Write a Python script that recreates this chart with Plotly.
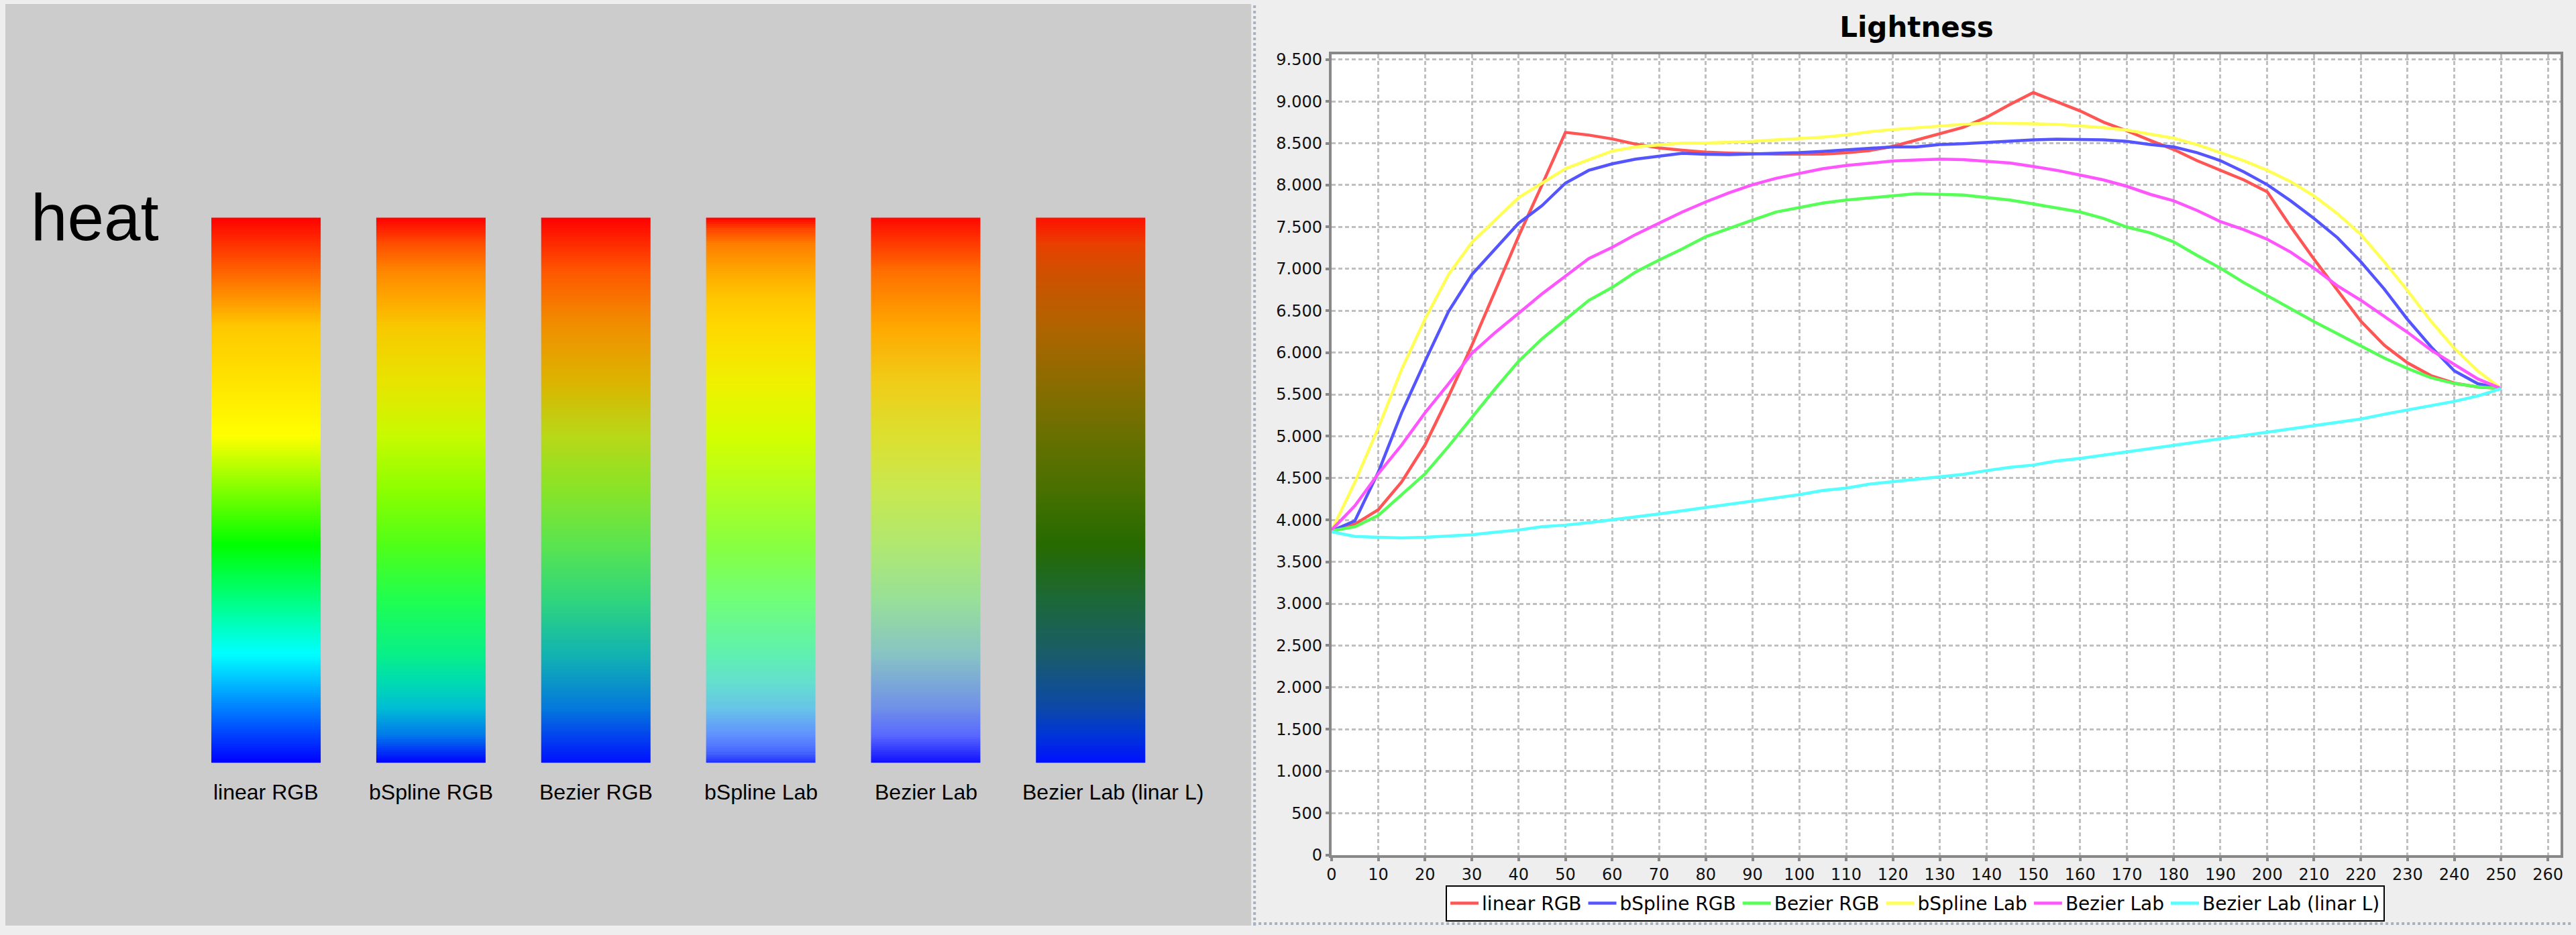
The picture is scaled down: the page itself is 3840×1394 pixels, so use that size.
import numpy as np
import plotly.graph_objects as go

# ---- left panel: "heat" colour ramps (top -> bottom colour stops)
bar_names = ["linear RGB", "bSpline RGB", "Bezier RGB", "bSpline Lab", "Bezier Lab", "Bezier Lab (linar L)"]

linear_rgb_stops = [(0.0, "#ff0000"), (0.2, "#ffc800"), (0.4, "#ffff00"),
                    (0.6, "#00ff00"), (0.8, "#00ffff"), (1.0, "#0000ff")]
bspline_rgb_stops = [(0.0, "#ff0000"), (0.05, "#ff5000"), (0.1, "#ff8800"), (0.15, "#ffa800"),
                     (0.2, "#f8c800"), (0.3, "#e8e400"), (0.4, "#c8fa00"), (0.5, "#8cff00"),
                     (0.6, "#50ff18"), (0.7, "#20ff50"), (0.8, "#08f088"), (0.85, "#00dcb0"),
                     (0.9, "#00bcd4"), (0.95, "#0078ec"), (1.0, "#0000ff")]
bezier_rgb_stops = [(0.0, "#ff0000"), (0.1, "#ff5800"), (0.2, "#f09000"), (0.3, "#dcb400"),
                    (0.4, "#b8d818"), (0.5, "#88e428"), (0.6, "#5ae450"), (0.7, "#30d67c"),
                    (0.8, "#12b4b0"), (0.9, "#0478dc"), (1.0, "#0010ff")]
bspline_lab_stops = [(0.0, "#ff0000"), (0.02, "#ff4000"), (0.05, "#ff8000"), (0.1, "#ffa800"),
                     (0.15, "#ffc800"), (0.2, "#ffd800"), (0.3, "#f0f000"), (0.4, "#d4ff00"),
                     (0.5, "#b0ff20"), (0.6, "#88ff40"), (0.7, "#70ff78"), (0.8, "#60f0b0"),
                     (0.85, "#64e0cc"), (0.9, "#68c4e8"), (0.95, "#6090ff"), (0.98, "#4868ff"),
                     (1.0, "#2030ff")]
bezier_lab_stops = [(0.0, "#ff0800"), (0.1, "#ff7000"), (0.2, "#ffa800"), (0.3, "#f0cc18"),
                    (0.4, "#dce030"), (0.5, "#c8e850"), (0.6, "#b0e870"), (0.7, "#98e098"),
                    (0.8, "#88c4c4"), (0.9, "#7090e8"), (0.95, "#5868ff"), (1.0, "#1010ff")]
bezier_lab_l_stops = [(0.0, "#ff1000"), (0.05, "#e84000"), (0.1, "#d05000"), (0.2, "#b06400"),
                      (0.3, "#8c6c00"), (0.4, "#687000"), (0.5, "#487000"), (0.6, "#266a00"),
                      (0.7, "#1c6838"), (0.8, "#1a5c68"), (0.9, "#0c48a8"), (0.95, "#0034d8"),
                      (1.0, "#0010ff")]
bar_stops = [linear_rgb_stops, bspline_rgb_stops, bezier_rgb_stops,
             bspline_lab_stops, bezier_lab_stops, bezier_lab_l_stops]

# ---- right panel: lightness curves
steps = [0, 5, 10, 15, 20, 25, 30, 35, 40, 45, 50, 55, 60, 65, 70, 75, 80, 85, 90, 95, 100,
         105, 110, 115, 120, 125, 130, 135, 140, 145, 150, 155, 160, 165, 170, 175, 180,
         185, 190, 195, 200, 205, 210, 215, 220, 225, 230, 235, 240, 245, 250]

linear_rgb = [3870, 3950, 4123, 4456, 4897, 5472, 6086, 6738, 7390, 8003, 8630,
              8598, 8552, 8490, 8444, 8417, 8394, 8383, 8375, 8371, 8371,
              8371, 8386, 8413, 8463, 8540, 8616, 8690, 8810, 8963, 9105,
              8994, 8887, 8752, 8649, 8534, 8426, 8292, 8177, 8062, 7920,
              7506, 7115, 6740, 6375, 6088, 5877, 5724, 5635, 5589, 5570]
bspline_rgb = [3870, 3990, 4571, 5281, 5896, 6490, 6931, 7238, 7545, 7755, 8024,
               8177, 8254, 8311, 8350, 8380, 8369, 8365, 8373, 8380, 8388,
               8403, 8419, 8434, 8457, 8457, 8484, 8495, 8511, 8522, 8541,
               8549, 8549, 8541, 8522, 8484, 8457, 8388, 8292, 8158, 8005,
               7813, 7602, 7372, 7085, 6759, 6394, 6069, 5781, 5628, 5570]
bezier_rgb = [3870, 3920, 4054, 4303, 4552, 4878, 5223, 5568, 5896, 6164, 6394,
              6624, 6778, 6962, 7104, 7238, 7384, 7487, 7583, 7679, 7736,
              7786, 7821, 7848, 7874, 7897, 7890, 7882, 7851, 7821, 7775,
              7729, 7679, 7602, 7499, 7430, 7322, 7161, 7008, 6835, 6682,
              6520, 6370, 6225, 6080, 5935, 5810, 5700, 5630, 5590, 5570]
bspline_lab = [3870, 4450, 5100, 5800, 6400, 6931, 7315, 7583, 7851, 8024, 8196,
               8304, 8407, 8457, 8484, 8503, 8503, 8511, 8522, 8541, 8557,
               8572, 8599, 8637, 8664, 8687, 8706, 8726, 8741, 8741, 8733,
               8726, 8710, 8687, 8657, 8611, 8561, 8484, 8388, 8292, 8177,
               8043, 7870, 7660, 7410, 7085, 6740, 6375, 6049, 5781, 5570]
bezier_lab = [3880, 4169, 4552, 4897, 5281, 5626, 5990, 6240, 6470, 6701, 6912,
              7123, 7257, 7410, 7545, 7680, 7800, 7909, 8005, 8081, 8139,
              8196, 8235, 8265, 8288, 8300, 8311, 8304, 8281, 8265, 8223,
              8177, 8120, 8062, 7986, 7890, 7813, 7698, 7564, 7468, 7353,
              7200, 7008, 6797, 6624, 6432, 6241, 6030, 5858, 5685, 5570]
bezier_lab_l = [3860, 3804, 3793, 3785, 3793, 3804, 3824, 3854, 3881, 3920, 3939,
                3969, 4004, 4031, 4073, 4111, 4150, 4188, 4226, 4265, 4303,
                4353, 4380, 4429, 4456, 4483, 4514, 4545, 4590, 4629, 4656,
                4706, 4736, 4775, 4813, 4851, 4890, 4937, 4968, 5006, 5053,
                5091, 5129, 5170, 5206, 5263, 5313, 5360, 5417, 5482, 5570]

series = [linear_rgb, bspline_rgb, bezier_rgb, bspline_lab, bezier_lab, bezier_lab_l]
series_colors = ["#ff5555", "#5555ff", "#55ff55", "#ffff55", "#ff55ff", "#55ffff"]

W, H = 3840, 1394
LEFT_W = 1863

fig = go.Figure()

# colour ramps drawn as one-column heatmaps
edges = np.linspace(0, 1, 257)
centers = (edges[:-1] + edges[1:]) / 2
for i, stops in enumerate(bar_stops):
    fig.add_trace(go.Heatmap(
        x=[i - 0.3325, i + 0.3325],
        y=edges,
        z=[[c] for c in centers],
        colorscale=[[p, c] for p, c in stops],
        zmin=0, zmax=1,
        showscale=False,
        hoverinfo="skip",
        xaxis="x2", yaxis="y2",
    ))

for name, vals, col in zip(bar_names, series, series_colors):
    fig.add_trace(go.Scatter(
        x=steps, y=vals, name=name, mode="lines",
        line=dict(color=col, width=4.5),
    ))

annotations = [dict(text="heat", xref="paper", yref="paper", x=36 / W, y=1 - 323 / H,
                    xanchor="left", yanchor="middle", showarrow=False,
                    font=dict(family="Liberation Sans", size=98, color="#000000"))]
for i, name in enumerate(bar_names):
    annotations.append(dict(
        text=name, xref="x2", yref="paper", x=i, y=1 - 1192 / H,
        xanchor="center", yanchor="middle", showarrow=False,
        xshift=33 if i == 5 else 0,
        font=dict(family="Liberation Sans", size=32, color="#000000"),
    ))

shapes = [
    dict(type="rect", xref="paper", yref="paper", x0=0, x1=LEFT_W / W, y0=0, y1=1,
         fillcolor="#cccccc", line=dict(width=0), layer="below"),
    dict(type="rect", xref="x domain", yref="y domain", x0=0, x1=1, y0=0, y1=1,
         fillcolor="#ffffff", line=dict(width=0), layer="below"),
    dict(type="line", xref="paper", yref="paper", x0=1868 / W, x1=1868 / W, y0=0, y1=1,
         line=dict(color="#a8b2be", width=4, dash="dot")),
    dict(type="line", xref="paper", yref="paper", x0=1866 / W, x1=1, y0=1 - 1391 / H, y1=1 - 1391 / H,
         line=dict(color="#a8b2be", width=4, dash="dot")),
]

axis_common = dict(
    showline=True, linecolor="#888888", linewidth=4, mirror=True,
    ticks="outside", ticklen=5, tickwidth=4, tickcolor="#888888",
    showgrid=True, gridcolor="#c0c0c0", gridwidth=2.5, griddash="6px,4px",
    zeroline=False,
    tickfont=dict(family="DejaVu Sans", size=24, color="#111111"),
)

fig.update_layout(
    width=W, height=H,
    margin=dict(l=0, r=0, t=0, b=0),
    paper_bgcolor="#eeeeee",
    plot_bgcolor="rgba(0,0,0,0)",
    separators=",.",
    title=dict(text="Lightness", x=2857 / W, xanchor="center", y=1 - 40 / H, yanchor="middle",
               font=dict(family="DejaVu Sans", size=42, color="#000000", weight="bold")),
    xaxis=dict(domain=[1983 / W, 3821 / W], range=[0, 262.7], dtick=10, tick0=0, **axis_common),
    yaxis=dict(domain=[1 - 1287 / H, 1 - 76 / H], range=[0, 9563], dtick=500, tick0=0,
               tickformat=",d", **axis_common),
    xaxis2=dict(domain=[0, LEFT_W / W], range=[-1.5815, 5.973], visible=False, anchor="y2"),
    yaxis2=dict(domain=[1 - 1148 / H, 1 - 323 / H], range=[1, 0], visible=False, anchor="x2"),
    showlegend=True,
    legend=dict(orientation="h", x=2856 / W, xanchor="center", y=1 - 1333 / H, yanchor="top",
                bgcolor="#ffffff", bordercolor="#000000", borderwidth=2,
                itemwidth=42,
                font=dict(family="DejaVu Sans", size=28, color="#000000"),
                traceorder="normal"),
    annotations=annotations,
    shapes=shapes,
)

fig.write_html(
    "out.html",
    config={"displayModeBar": False},
    post_script="document.body.style.margin='0';document.body.style.overflow='hidden';",
)
